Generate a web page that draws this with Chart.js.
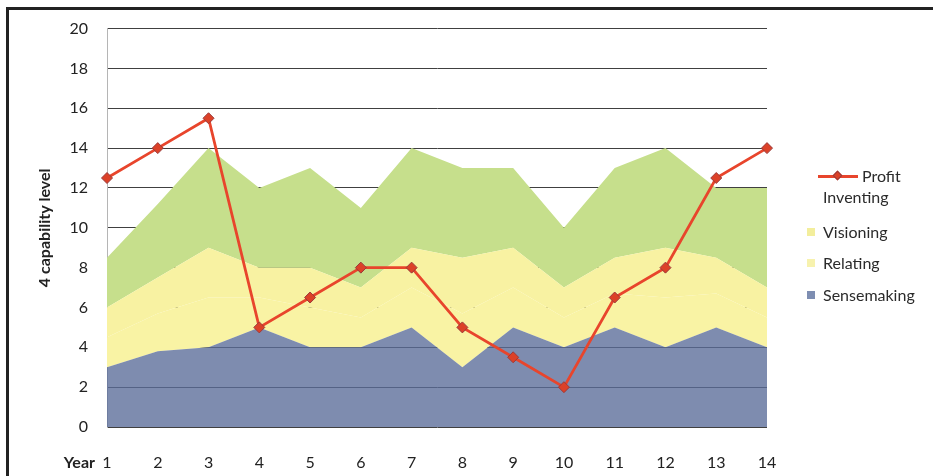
<!DOCTYPE html>
<html>
<head>
<meta charset="utf-8">
<script src="https://cdn.jsdelivr.net/npm/chart.js@4"></script>
<style>
  html, body { margin: 0; padding: 0; background: #fff; }
  #wrap { position: relative; width: 933px; height: 476px; overflow: hidden; }
  #frame { position: absolute; left: 6px; top: 7px; right: -10px; bottom: -10px;
           border-top: 3px solid #222; border-left: 3px solid #222; }
  canvas { position: absolute; left: 0; top: 0; }
  .lg { position: absolute; font: 16px Lato, sans-serif; color: #2b2b2b; line-height: 18px; white-space: nowrap; }
  .sw { position: absolute; width: 8px; height: 8px; }
</style>
</head>
<body>
<div id="wrap">
  <div id="frame"></div>
  <canvas id="chart" width="933" height="476"></canvas>
  <div id="legend"></div>
</div>
<script>
// years on the x axis
const years = ["1", "2", "3", "4", "5", "6", "7", "8", "9", "10", "11", "12", "13", "14"];

// profit line
const profit = [12.5, 14, 15.5, 5, 6.5, 8, 8, 5, 3.5, 2, 6.5, 8, 12.5, 14];

// stacked capability levels (bottom to top)
const sensemaking = [3, 3.8, 4, 5, 4, 4, 5, 3, 5, 4, 5, 4, 5, 4];
const relating    = [1.5, 1.9, 2.5, 1.5, 2, 1.5, 2, 2.7, 2, 1.5, 1.7, 2.5, 1.7, 1.5];
const visioning   = [1.5, 1.8, 2.5, 1.5, 2, 1.5, 2, 2.8, 2, 1.5, 1.8, 2.5, 1.8, 1.5];
const inventing   = [2.5, 3.7, 5, 4, 5, 4, 5, 4.5, 4, 3, 4.5, 5, 3.5, 5];

const yTicks = { min: 0, max: 20, step: 2 };

const colors = {
  profit: "#E8452C",
  sensemaking: "rgba(90,108,152,0.78)",
  relating: "#F9F3A4",
  visioning: "#F8F2A2",
  inventing: "#C6DF8C"
};

const areaSet = (label, data, color, fill) => ({
  label: label,
  data: data,
  backgroundColor: color,
  borderColor: color,
  borderWidth: 0,
  pointRadius: 0,
  fill: fill,
  tension: 0,
  order: 1,
  stack: "cap"
});

// small text drawn next to the x tick labels
const yearLabel = {
  id: "yearLabel",
  afterDraw(chart) {
    const ctx = chart.ctx;
    const xs = chart.scales.x;
    ctx.save();
    ctx.font = "bold 16px Lato";
    ctx.fillStyle = "#222";
    ctx.textAlign = "right";
    ctx.textBaseline = "middle";
    ctx.fillText("Year", chart.chartArea.left - 12, xs.top + 36);
    ctx.restore();
  }
};

const ctx = document.getElementById("chart").getContext("2d");
new Chart(ctx, {
  type: "line",
  data: {
    labels: years,
    datasets: [
      areaSet("Sensemaking", sensemaking, colors.sensemaking, "origin"),
      areaSet("Relating", relating, colors.relating, "-1"),
      areaSet("Visioning", visioning, colors.visioning, "-1"),
      areaSet("Inventing", inventing, colors.inventing, "-1"),
      {
        label: "Profit",
        data: profit,
        borderColor: colors.profit,
        borderWidth: 2.8,
        pointStyle: "rectRot",
        pointRadius: 5.5,
        pointBackgroundColor: "#DC4128",
        pointBorderColor: "#9A3A3A",
        pointBorderWidth: 1,
        fill: false,
        tension: 0,
        order: 0,
        stack: "profit"
      }
    ]
  },
  options: {
    responsive: false,
    animation: false,
    layout: { padding: { left: 0, top: 27, right: 166, bottom: 0 } },
    plugins: {
      legend: { display: false },
      tooltip: { enabled: false }
    },
    scales: {
      x: {
        offset: false,
        grid: { display: false, drawTicks: false },
        border: { display: false },
        ticks: { color: "#222", font: { family: "Lato", size: 16 }, padding: 26, maxRotation: 0, autoSkip: false },
        afterFit: scale => { scale.height = 49; }
      },
      y: {
        stacked: true,
        min: yTicks.min,
        max: yTicks.max,
        grid: { color: "#404040", lineWidth: 1, drawTicks: false },
        border: { display: true, color: "#b5b5b5" },
        ticks: { stepSize: yTicks.step, color: "#222", font: { family: "Lato", size: 16 }, padding: 19 },
        title: {
          display: true,
          text: "4 capability level",
          color: "#222",
          font: { family: "Lato", size: 16, weight: "bold" },
          padding: { top: 35, bottom: 0 }
        },
        afterFit: scale => { scale.width = 107; }
      }
    }
  },
  plugins: [yearLabel]
});

// legend on the right
const legendItems = [
  { name: "Profit", kind: "line", y: 176 },
  { name: "Inventing", kind: "none", y: 197 },
  { name: "Visioning", kind: "box", color: "#F3EE9C", y: 232 },
  { name: "Relating", kind: "box", color: "#F7F2AE", y: 263 },
  { name: "Sensemaking", kind: "box", color: "#7E8EB2", y: 295 }
];
const legend = document.getElementById("legend");
legendItems.forEach(item => {
  const t = document.createElement("div");
  t.className = "lg";
  t.textContent = item.name;
  t.style.top = (item.y - 9) + "px";
  t.style.left = (item.kind === "line" ? 862 : 823) + "px";
  legend.appendChild(t);
  if (item.kind === "box") {
    const s = document.createElement("div");
    s.className = "sw";
    s.style.left = "807px";
    s.style.top = (item.y - 4) + "px";
    s.style.background = item.color;
    legend.appendChild(s);
  } else if (item.kind === "line") {
    const l = document.createElement("div");
    l.style.cssText = "position:absolute;left:818px;top:" + (item.y - 1) + "px;width:40px;height:2.5px;background:" + colors.profit;
    legend.appendChild(l);
    const d = document.createElement("div");
    d.style.cssText = "position:absolute;left:834px;top:" + (item.y - 4) + "px;width:7px;height:7px;transform:rotate(45deg);background:#DC4128;border:1px solid #9A3A3A;box-sizing:border-box";
    legend.appendChild(d);
  }
});
</script>
</body>
</html>
